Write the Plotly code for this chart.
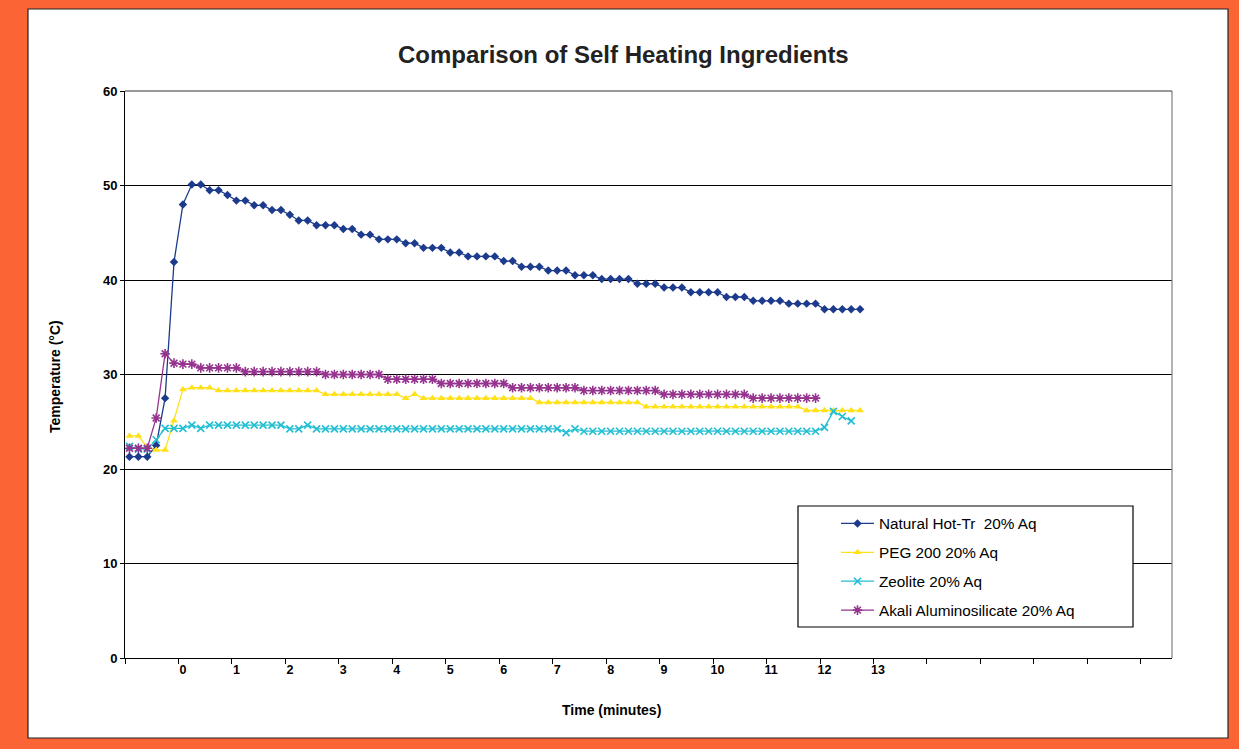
import plotly.graph_objects as go

# ---------------- data (readings every 10 s; category index) ----------------
series_names = ["Natural Hot-Tr  20% Aq", "PEG 200 20% Aq", "Zeolite 20% Aq",
                "Akali Aluminosilicate 20% Aq"]

natural = [21.3, 21.3, 21.3, 22.5, 27.5, 41.9, 48.0, 50.1, 50.1, 49.5,
           49.5, 49.0, 48.4, 48.4, 47.9, 47.9, 47.4, 47.4, 46.9, 46.3,
           46.3, 45.8, 45.8, 45.8, 45.4, 45.4, 44.8, 44.8, 44.3, 44.3,
           44.3, 43.9, 43.9, 43.4, 43.4, 43.4, 42.9, 42.9, 42.5, 42.5,
           42.5, 42.5, 42.0, 42.0, 41.4, 41.4, 41.4, 41.0, 41.0, 41.0,
           40.5, 40.5, 40.5, 40.1, 40.1, 40.1, 40.1, 39.6, 39.6, 39.6,
           39.2, 39.2, 39.2, 38.7, 38.7, 38.7, 38.7, 38.2, 38.2, 38.2,
           37.8, 37.8, 37.8, 37.8, 37.5, 37.5, 37.5, 37.5, 36.9, 36.9,
           36.9, 36.9, 36.9]

peg = [23.5, 23.5, 22.3, 22.0, 22.0, 25.1, 28.4, 28.6, 28.6, 28.6,
       28.3, 28.3, 28.3, 28.3, 28.3, 28.3, 28.3, 28.3, 28.3, 28.3,
       28.3, 28.3, 27.9, 27.9, 27.9, 27.9, 27.9, 27.9, 27.9, 27.9,
       27.9, 27.5, 27.9, 27.5, 27.5, 27.5, 27.5, 27.5, 27.5, 27.5,
       27.5, 27.5, 27.5, 27.5, 27.5, 27.5, 27.05, 27.05, 27.05, 27.05,
       27.05, 27.05, 27.05, 27.05, 27.05, 27.05, 27.05, 27.05, 26.6, 26.6,
       26.6, 26.6, 26.6, 26.6, 26.6, 26.6, 26.6, 26.6, 26.6, 26.6,
       26.6, 26.6, 26.6, 26.6, 26.6, 26.6, 26.2, 26.2, 26.2, 26.2,
       26.2, 26.2, 26.2]

zeolite = [22.4, 22.1, 22.1, 23.1, 24.3, 24.3, 24.3, 24.65, 24.3, 24.65,
           24.65, 24.65, 24.65, 24.65, 24.65, 24.65, 24.65, 24.65, 24.25, 24.25,
           24.65, 24.25, 24.25, 24.25, 24.25, 24.25, 24.25, 24.25, 24.25, 24.25,
           24.25, 24.25, 24.25, 24.25, 24.25, 24.25, 24.25, 24.25, 24.25, 24.25,
           24.25, 24.25, 24.25, 24.25, 24.25, 24.25, 24.25, 24.25, 24.25, 23.85,
           24.25, 24.0, 24.0, 24.0, 24.0, 24.0, 24.0, 24.0, 24.0, 24.0,
           24.0, 24.0, 24.0, 24.0, 24.0, 24.0, 24.0, 24.0, 24.0, 24.0,
           24.0, 24.0, 24.0, 24.0, 24.0, 24.0, 24.0, 24.0, 24.4, 26.1,
           25.55, 25.1]

akali = [22.2, 22.2, 22.2, 25.4, 32.2, 31.2, 31.1, 31.1, 30.7, 30.7,
         30.7, 30.7, 30.7, 30.3, 30.3, 30.3, 30.3, 30.3, 30.3, 30.3,
         30.3, 30.3, 30.0, 30.0, 30.0, 30.0, 30.0, 30.0, 30.0, 29.5,
         29.5, 29.5, 29.5, 29.5, 29.5, 29.05, 29.05, 29.05, 29.05, 29.05,
         29.05, 29.05, 29.05, 28.6, 28.6, 28.6, 28.6, 28.6, 28.6, 28.6,
         28.6, 28.3, 28.3, 28.3, 28.3, 28.3, 28.3, 28.3, 28.3, 28.3,
         27.9, 27.9, 27.9, 27.9, 27.9, 27.9, 27.9, 27.9, 27.9, 27.9,
         27.5, 27.5, 27.5, 27.5, 27.5, 27.5, 27.5, 27.5]

time_labels = ["0", "1", "2", "3", "4", "5", "6", "7", "8", "9", "10", "11", "12", "13"]
readings_per_minute = 6
zero_reading_index = 6        # category index of t = 0
category_axis_end = 117.0     # axis spans categories -0.5 .. this
y_ticks = [0, 10, 20, 30, 40, 50, 60]

# ---------------- styling ----------------
FONT = "Liberation Sans, Arial, sans-serif"
W, H = 1239, 749
L, R, T, B = 125, 67, 91, 91
PW, PH = W - L - R, H - T - B


def px_x(p):
    return (p - L) / PW


def px_y(p):
    return (H - B - p) / PH


colors = ["#1D3B8C", "#FFE11A", "#22BFD2", "#95338F"]
markers = [dict(symbol="diamond", size=6.5, color=colors[0]),
           dict(symbol="triangle-up", size=7, color=colors[1]),
           dict(symbol="x-thin-open", size=7, color=colors[2],
                line=dict(width=1.6, color=colors[2])),
           dict(symbol="asterisk-open", size=8, color=colors[3],
                line=dict(width=1.6, color=colors[3]))]

fig = go.Figure()
for name, vals, col, mk in zip(series_names, [natural, peg, zeolite, akali], colors, markers):
    fig.add_trace(go.Scatter(
        x=list(range(len(vals))), y=vals, name=name, mode="lines+markers",
        line=dict(color=col, width=1.3), marker=mk, legendgroup=name))

major_vals = [zero_reading_index + readings_per_minute * k for k in range(len(time_labels))]
minor_vals = [-0.5 + readings_per_minute * k for k in range(int((category_axis_end + 0.5) // readings_per_minute) + 1)]

fig.update_layout(
    width=W, height=H,
    margin=dict(l=L, r=R, t=T, b=B, pad=0),
    paper_bgcolor="#FB6536", plot_bgcolor="white",
    font=dict(family=FONT, color="black"),
    showlegend=True,
    legend=dict(x=px_x(836), y=px_y(507), xanchor="left", yanchor="top",
                bgcolor="rgba(0,0,0,0)", borderwidth=0, tracegroupgap=6,
                font=dict(family=FONT, size=15.3, color="black"), itemwidth=33),
    xaxis=dict(range=[-0.5, category_axis_end], tickmode="array",
               tickvals=major_vals, ticktext=time_labels, ticks="",
               showgrid=False, zeroline=False, showline=True, linecolor="black",
               linewidth=1, tickfont=dict(family=FONT, size=12.5, weight="bold"),
               minor=dict(tickmode="array", tickvals=minor_vals, ticks="outside",
                          ticklen=5, tickwidth=1, tickcolor="black", showgrid=False)),
    yaxis=dict(range=[0, 60], tickmode="array", tickvals=y_ticks,
               showgrid=True, gridcolor="black", gridwidth=1, zeroline=False,
               showline=True, linecolor="black", linewidth=1, ticks="outside",
               ticklen=4, tickcolor="black",
               tickfont=dict(family=FONT, size=13, weight="bold")),
)

shapes = [
    # white chart panel on the orange frame
    dict(type="rect", xref="paper", yref="paper", layer="below",
         x0=px_x(28), x1=px_x(1228), y0=px_y(738), y1=px_y(9),
         fillcolor="white", line=dict(color="#222222", width=1.2)),
    # plot-area right edge and top edge
    dict(type="line", xref="paper", yref="paper", x0=1, x1=1, y0=0, y1=1,
         line=dict(color="#808080", width=1.2)),
    dict(type="line", xref="paper", yref="paper", x0=0, x1=1, y0=1, y1=1,
         line=dict(color="#333333", width=1.2)),
    # legend box
    dict(type="rect", xref="paper", yref="paper", layer="above",
         x0=px_x(798), x1=px_x(1133), y0=px_y(627), y1=px_y(506),
         fillcolor="white", line=dict(color="black", width=1.2)),
]
fig.update_layout(shapes=shapes)

fig.add_annotation(text="<b>Comparison of Self Heating Ingredients</b>",
                   xref="paper", yref="paper", x=px_x(623), y=px_y(54),
                   xanchor="center", yanchor="middle", showarrow=False,
                   font=dict(family=FONT, size=24, color="#222222"))
fig.add_annotation(text="<b>Time (minutes)</b>", xref="paper", yref="paper",
                   x=px_x(611), y=px_y(710), xanchor="center", yanchor="middle",
                   showarrow=False, font=dict(family=FONT, size=14))
fig.add_annotation(text="<b>Temperature (°C)</b>", xref="paper", yref="paper",
                   x=px_x(55), y=px_y(377), xanchor="center", yanchor="middle",
                   textangle=-90, showarrow=False, font=dict(family=FONT, size=14))

fig.write_html("out.html", config={"displayModeBar": False},
               post_script="document.body.style.margin='0';document.body.style.overflow='hidden';")
